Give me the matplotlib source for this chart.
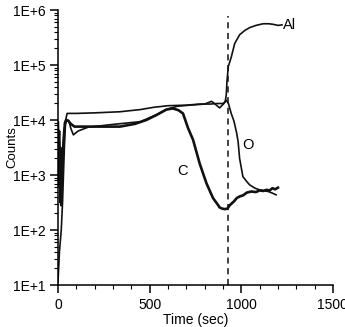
import matplotlib
matplotlib.use("Agg")
import matplotlib.pyplot as plt
from matplotlib.ticker import LogLocator, MultipleLocator, FuncFormatter
import numpy as np

plt.rcParams['font.family'] = ['Liberation Sans', 'DejaVu Sans']

t_al = [0, 8, 18, 25, 30, 35, 42, 50, 100, 200, 338, 450, 520, 600, 700, 773, 830,
        870, 900, 912, 918, 922, 929, 946, 964, 991, 1020, 1046, 1080, 1119, 1150, 1173, 1201, 1222]
log_al = [1.05, 1.6, 2.0, 2.5, 3.0, 3.5, 4.0, 4.12, 4.12, 4.13, 4.15, 4.19, 4.23, 4.26, 4.27, 4.29, 4.29,
          4.3, 4.3, 4.33, 4.45, 4.7, 4.97, 5.15, 5.39, 5.55, 5.63, 5.68, 5.72, 5.75, 5.75, 5.74, 5.72, 5.73]

t_o = [0, 4, 8, 11, 14, 18, 24, 30, 38, 48, 60, 70, 84, 110, 165, 300, 450, 540, 600, 650, 720, 800,
       838, 850, 882, 905, 918, 930, 945, 960, 975, 983, 991, 1009, 1030, 1046, 1075, 1100, 1147, 1170, 1190]
log_o = [3.9, 2.8, 3.6, 2.5, 3.3, 2.7, 3.2, 3.6, 3.9, 4.0, 3.98, 3.85, 3.73, 3.8, 3.87, 3.92, 3.97, 4.1, 4.2, 4.25, 4.27, 4.29,
         4.34, 4.31, 4.22, 4.3, 4.36, 4.3, 4.12, 3.98, 3.76, 3.6, 3.3, 2.97, 2.88, 2.82, 2.76, 2.73, 2.7, 2.67, 2.64]

t_c = [0, 3, 6, 9, 12, 15, 18, 22, 27, 32, 38, 45, 55, 70, 90, 200, 338, 420, 482, 537, 591, 627, 656, 682,
       710, 737, 773, 810, 846, 870, 882, 895, 910, 925, 937, 960, 975, 991, 1010, 1030, 1055, 1080, 1100,
       1120, 1137, 1155, 1170, 1185, 1200]
log_c = [3.95, 3.2, 3.8, 2.9, 3.5, 2.6, 2.45, 3.0, 3.4, 3.7, 3.95, 4.0, 3.99, 3.93, 3.88, 3.88, 3.88, 3.93, 4.0, 4.09, 4.19, 4.21, 4.18, 4.12,
         3.85, 3.64, 3.21, 2.85, 2.58, 2.47, 2.41, 2.39, 2.38, 2.39, 2.45, 2.52, 2.58, 2.61, 2.63, 2.68, 2.7, 2.69, 2.72,
         2.71, 2.73, 2.72, 2.76, 2.74, 2.77]

t_sputter = 925  # gestrichelte Linie

fig = plt.figure(figsize=(3.45, 3.27), dpi=100)
ax = fig.add_axes([0.168, 0.1284, 0.797, 0.841])

ax.plot(t_c, 10 ** np.array(log_c), color='#111111', lw=1.9)
ax.plot(t_o, 10 ** np.array(log_o), color='#111111', lw=1.2)
ax.plot(t_al, 10 ** np.array(log_al), color='#111111', lw=1.2)
ax.plot([t_sputter, t_sputter], [10, 10 ** 5.9], color='#111111', lw=1.1, dashes=(4, 3))

ax.text(1228, 10 ** 5.73, "Al", fontsize=10.5, va='center', ha='left')
ax.text(1035, 10 ** 3.545, "O", fontsize=10.5, va='center', ha='center')
ax.text(682, 10 ** 3.08, "C", fontsize=10.5, va='center', ha='center')

ax.set_yscale('log')
ax.set_xlim(0, 1500)
ax.set_ylim(10, 1e6)
ax.yaxis.set_major_locator(LogLocator(base=10, numticks=10))
ax.yaxis.set_minor_locator(LogLocator(base=10, subs=np.arange(2, 10), numticks=20))
ax.yaxis.set_major_formatter(FuncFormatter(lambda v, p: "1E+%d" % round(np.log10(v))))
ax.xaxis.set_major_locator(MultipleLocator(500))
ax.xaxis.set_minor_locator(MultipleLocator(100))

for s in ['top', 'right']:
    ax.spines[s].set_visible(False)
ax.spines['left'].set_linewidth(1.1)
ax.spines['bottom'].set_linewidth(1.1)
ax.tick_params(which='major', direction='out', length=6, width=1.1, labelsize=10, pad=3)
ax.tick_params(which='minor', direction='out', length=3, width=0.8)

ax.set_xlabel("Time (sec)", fontsize=10, labelpad=1)
ax.set_ylabel("Counts", fontsize=9.5, labelpad=0)
ax.yaxis.set_label_coords(-0.145, 0.5)

fig.savefig("out.png", dpi=100)
